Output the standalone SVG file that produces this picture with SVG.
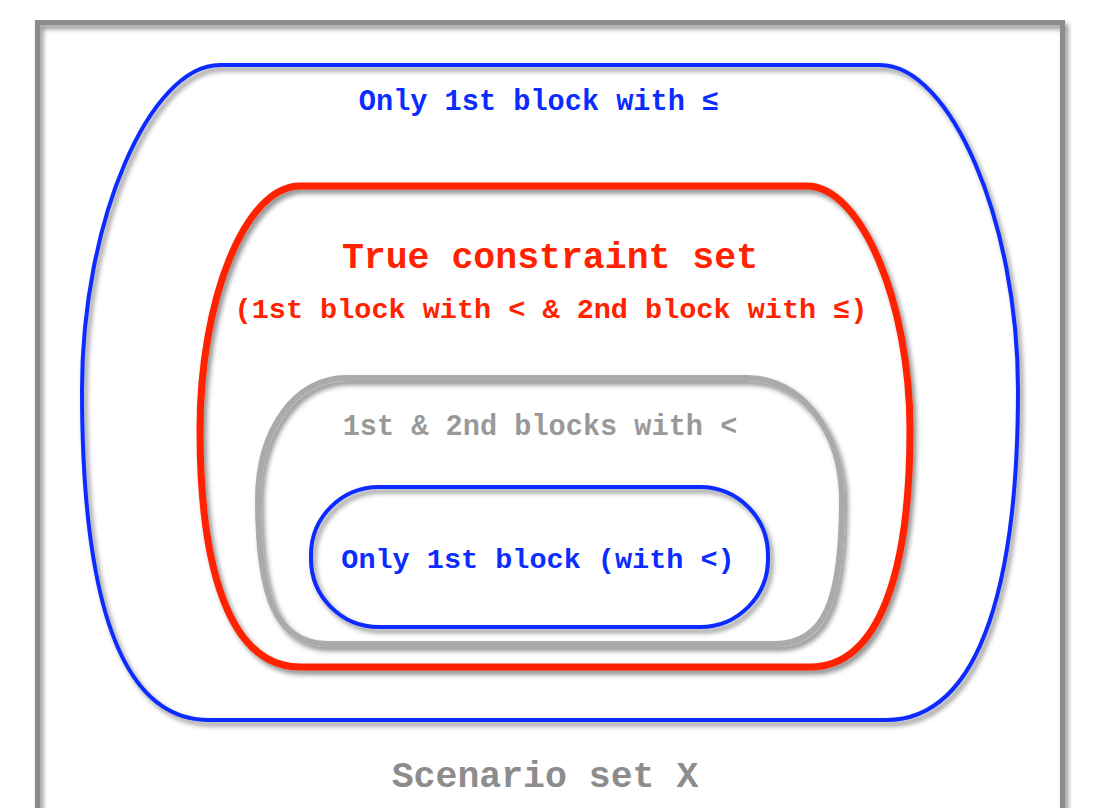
<svg xmlns="http://www.w3.org/2000/svg" width="1094" height="808" viewBox="0 0 1094 808">
<defs>
<filter id="sh" x="-10%" y="-10%" width="120%" height="120%">
<feDropShadow dx="3" dy="4" stdDeviation="2.5" flood-color="#000" flood-opacity="0.45"/>
</filter>
<style>
.t{font-family:"Liberation Mono","Courier New",monospace;font-weight:bold;text-anchor:middle}
.sh{fill:none;filter:url(#sh)}
</style>
</defs>
<rect width="1094" height="808" fill="#fff"/>
<g id="scenario">
<rect x="37.5" y="22.5" width="1025" height="790" class="sh" stroke="#8c8c8c" stroke-width="5"/>
<text class="t" x="545" y="787" font-size="36.5" fill="#8c8c8c">Scenario set X</text>
</g>
<g id="only1st_le">
<path class="sh" stroke="#0a2cff" stroke-width="4" d="M220,65 H880 C950,65 1018,220 1018,390 C1018,570 985,720 886,720 H209 C110,720 82,570 82,390 C82,220 150,65 220,65 Z"/>
<text class="t" x="539" y="110" font-size="28.6" fill="#0a2cff">Only 1st block with ≤</text>
</g>
<g id="true_set">
<path class="sh" stroke="#ff2200" stroke-width="7" d="M300,186 H807 C860,186 910,300 910,430 C910,570 880,667 810,667 H300 C230,667 200,570 200,430 C200,300 245,186 300,186 Z"/>
<text class="t" x="550" y="268" font-size="36.5" fill="#ff2200">True constraint set</text>
<text class="t" x="551" y="318" font-size="28.5" fill="#ff2200">(1st block with &lt; &amp; 2nd block with ≤)</text>
</g>
<g id="both_lt">
<path class="sh" stroke="#aaaaaa" stroke-width="6" d="M346,378 H747 C800,378 842,430 842,500 C842,600 825,644 775,644 H328 C278,644 258,600 258,500 C258,430 295,378 346,378 Z"/>
<text class="t" x="540" y="435" font-size="28.6" fill="#999999">1st &amp; 2nd blocks with &lt;</text>
</g>
<g id="only1st_lt">
<rect class="sh" x="311" y="487" width="457" height="140" rx="68" ry="68" stroke="#0a2cff" stroke-width="4"/>
<text class="t" x="538" y="568" font-size="28.5" fill="#0a2cff">Only 1st block (with &lt;)</text>
</g>
<g id="connectors"/>
</svg>
